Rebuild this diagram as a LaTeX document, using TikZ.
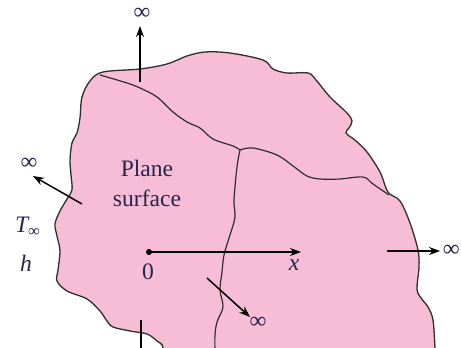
\documentclass[tikz,border=0pt]{standalone}
\usepackage{fontspec}
\setmainfont{Liberation Serif}
\usetikzlibrary{arrows.meta}
\definecolor{platepink}{HTML}{F7BDD6}
\definecolor{rimink}{HTML}{2E2E2E}
\definecolor{labelink}{HTML}{26264C}

\begin{document}
\begin{tikzpicture}[x=0.5pt, y=-0.5pt, >={Stealth[length=5.5pt, width=4pt]},
                    every node/.style={labelink, font=\fontsize{11.8}{15}\selectfont},
                    rim/.style={draw=rimink, fill=platepink, line width=0.65pt},
                    crease/.style={draw=rimink, line width=0.6pt},
                    flux/.style={black, line width=0.75pt}]

  %% page frame
  \useasboundingbox (0,0) rectangle (461,348);

  %% outline of the plane surface (runs off the lower edge)
  \filldraw[rim] plot[smooth cycle, tension=0.55] coordinates {
    (82,97) (90,81) (103,72) (140,69) (167,64) (187,56) (205,52) (230,53)
    (263,60) (273,69) (287,73) (308,73) (316,80) (330,97) (347,113)
    (352,121) (349,128) (346,133) (356,141) (367,152) (380,172) (388,192)
    (400,201) (410,223) (418,250) (419,267) (417,289) (421,298) (428,307)
    (433,320) (435,348) (436,365) (300,368) (164,365) (163,347) (157,341)
    (147,334) (130,331) (113,327) (107,321) (100,311) (87,299) (67,291)
    (57,281) (58,270) (60,251) (57,236) (55,224) (60,211) (67,199)
    (72,190) (71,175) (70,160) (72,143) (77,133) (80,118)};

  %% creases across the surface
  \draw[crease] plot[smooth, tension=0.55] coordinates {
    (100,75) (127,83) (140,88) (157,97) (173,112) (187,122) (200,128)
    (213,139) (233,146) (240,150)};
  \draw[crease] plot[smooth, tension=0.55] coordinates {
    (240,150) (253,148) (277,155) (293,166) (307,176) (320,179) (340,179)
    (363,177) (373,184) (389,195)};
  \draw[crease] plot[smooth, tension=0.55] coordinates {
    (240,150) (237,167) (234,200) (235,217) (230,235) (224,255) (222,272)
    (220,290) (223,307) (217,322) (215,335) (215,352)};

  %% labels
  \node (plane) [align=center] at (147,183) {Plane\\surface};
  \node (tinf) at (28,227) {\itshape T\textsubscript{\upshape ∞}};
  \node (hcoef) at (26,263) {\itshape h};
  \node (zero) at (148,272) {0};
  \node (xlbl) at (294,265) {\itshape x};
  \node (inftop) at (142,14) {∞};
  \node (infleft) at (29,164) {∞};
  \node (infright) [anchor=east, inner sep=0.5pt] at (461,251) {∞};
  \node (inflow) at (258,323) {∞};

  %% origin and x axis
  \coordinate (origin) at (149,252);
  \coordinate (xtip) at (301,252);
  \fill[black] (origin) circle (3);
  \draw[flux, ->] (origin) -- (xtip);

  %% directions running off to infinity
  \coordinate (topfoot) at (140,82);
  \coordinate (toptip) at (140,26);
  \coordinate (leftfoot) at (82,204);
  \coordinate (lefttip) at (33,176);
  \coordinate (rightfoot) at (387,251);
  \coordinate (righttip) at (440,251);
  \coordinate (lowfoot) at (207,278);
  \coordinate (lowtip) at (250,317);
  \coordinate (botfoot) at (141,320);
  \coordinate (botend) at (141,360);
  \draw[flux, ->] (topfoot) -- (toptip);
  \draw[flux, ->] (leftfoot) -- (lefttip);
  \draw[flux, ->] (rightfoot) -- (righttip);
  \draw[flux, ->] (lowfoot) -- (lowtip);
  \draw[flux] (botfoot) -- (botend);

\end{tikzpicture}
\end{document}
